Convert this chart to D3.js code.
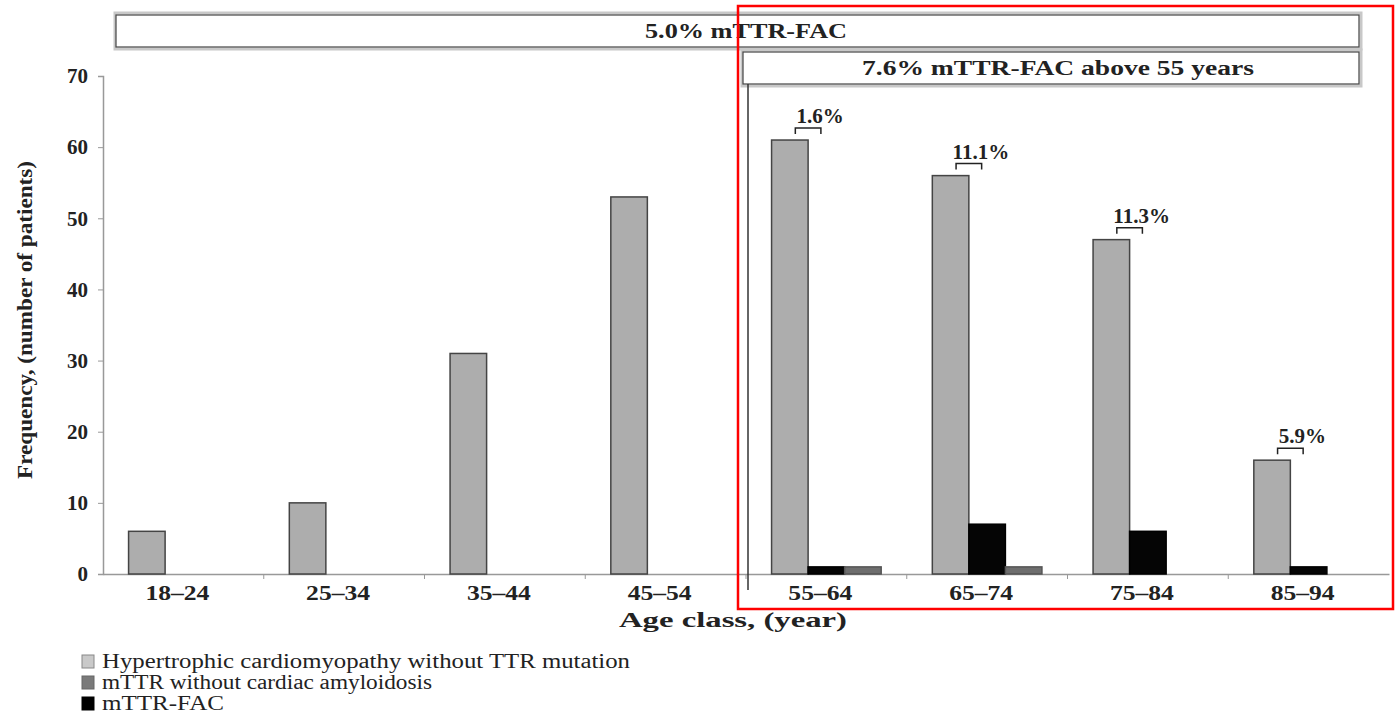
<!DOCTYPE html>
<html lang="en">
<head>
<meta charset="UTF-8" />
<title>Age class frequency</title>
<style>
  html, body {
    margin: 0;
    padding: 0;
    background: #fff;
    overflow: hidden;
  }
  svg {
    font-family: "Liberation Serif", "DejaVu Serif", serif;
  }
  .axis {
    font-family: "Liberation Serif", "DejaVu Serif", serif;
  }
  .tick text {
    font-weight: bold;
    font-size: 21px;
    fill: #222;
  }
  .axis path, .axis line {
    stroke: #999;
  }
</style>
</head>
<body>
<svg width="1395" height="718"></svg>

<script src="https://d3js.org/d3.v7.min.js"></script>
<script>
const ageClasses = ["18–24", "25–34", "35–44", "45–54", "55–64", "65–74", "75–84", "85–94"];
const hcmValues = [6, 10, 31, 53, 61, 56, 47, 16];
const facValues = [0, 0, 0, 0, 1, 7, 6, 1];
const mttrValues = [0, 0, 0, 0, 1, 1, 0, 0];
const pctLabels = [null, null, null, null, "1.6%", "11.1%", "11.3%", "5.9%"];
const yTicks = [0, 10, 20, 30, 40, 50, 60, 70];

// drawn order in each group, and legend order
const barSeries = [
  { key: "hcm", values: hcmValues, fill: "#adadad", stroke: "#444" },
  { key: "fac", values: facValues, fill: "#050505", stroke: "#000" },
  { key: "mttr", values: mttrValues, fill: "#6e6e6e", stroke: "#555" }
];
const legendItems = [
  { label: "Hypertrophic cardiomyopathy without TTR mutation", fill: "#c9c9c9", stroke: "#888", len: 528 },
  { label: "mTTR without cardiac amyloidosis", fill: "#7a7a7a", stroke: "#666", len: 330 },
  { label: "mTTR-FAC", fill: "#000", stroke: "#000", len: 122 }
];

const svg = d3.select("svg");
const plotLeft = 103, plotRight = 1389, plotTop = 76, plotBottom = 574;

const x = d3.scaleBand().domain(ageClasses).range([plotLeft, plotRight]).padding(0);
const xSub = d3.scaleBand().domain(barSeries.map(s => s.key))
  .range([0, x.bandwidth()]).paddingInner(0).paddingOuter(0.7);
const y = d3.scaleLinear().domain([0, 70]).range([plotBottom, plotTop]);

// header boxes
function headerBox(x0, y0, w, h, label, cx, len) {
  svg.append("rect").attr("x", x0 - 1).attr("y", y0 - 2).attr("width", w + 3).attr("height", h + 4)
    .attr("fill", "none").attr("stroke", "#c8c8c8").attr("stroke-width", 3);
  svg.append("rect").attr("x", x0).attr("y", y0).attr("width", w).attr("height", h)
    .attr("fill", "#fff").attr("stroke", "#444").attr("stroke-width", 1.2);
  svg.append("text").attr("x", cx).attr("y", y0 + h / 2 + 7)
    .attr("text-anchor", "middle").attr("font-weight", "bold").attr("font-size", 20)
    .attr("textLength", len).attr("lengthAdjust", "spacingAndGlyphs")
    .attr("fill", "#222").text(label);
}
headerBox(116, 15, 1243, 32, "5.0% mTTR-FAC", 746, 202);
headerBox(743, 52, 616, 32, "7.6% mTTR-FAC above 55 years", 1058, 392);

// y axis
svg.append("g").attr("class", "axis")
  .attr("transform", `translate(${plotLeft},0)`)
  .call(d3.axisLeft(y).tickValues(yTicks).tickSize(5).tickPadding(10))
  .call(g => g.attr("font-family", null))
  .call(g => g.select(".domain").attr("stroke-width", 1.5));

// x axis, ticks at category boundaries
const xAxis = svg.append("g").attr("class", "axis")
  .attr("transform", `translate(0,${plotBottom})`)
  .call(d3.axisBottom(x).tickSize(0).tickPadding(9))
  .call(g => g.attr("font-family", null))
  .call(g => g.select(".domain").attr("stroke-width", 1.5));
xAxis.selectAll(".tick text").attr("dy", "0.8em").attr("dx", -6)
  .attr("textLength", 64).attr("lengthAdjust", "spacingAndGlyphs");
xAxis.selectAll(".boundary")
  .data(ageClasses.slice(1))
  .join("line")
  .attr("x1", d => x(d)).attr("x2", d => x(d))
  .attr("y1", 0).attr("y2", 5)
  .attr("stroke", "#999");

// divider between age groups below / above 55
svg.append("line")
  .attr("x1", x("55–64") + 2).attr("x2", x("55–64") + 2)
  .attr("y1", 84).attr("y2", 590)
  .attr("stroke", "#333").attr("stroke-width", 1.5);

// bars
const groups = svg.selectAll(".group")
  .data(ageClasses)
  .join("g")
  .attr("transform", d => `translate(${x(d)},0)`);

barSeries.forEach(s => {
  groups.filter((d, i) => s.values[i] > 0)
    .append("rect")
    .attr("x", xSub(s.key))
    .attr("width", xSub.bandwidth())
    .attr("y", d => y(s.values[ageClasses.indexOf(d)]))
    .attr("height", d => plotBottom - y(s.values[ageClasses.indexOf(d)]))
    .attr("fill", s.fill)
    .attr("stroke", s.stroke)
    .attr("stroke-width", 1.5);
});

// percentage brackets
const w = xSub.bandwidth();
ageClasses.forEach((c, i) => {
  if (!pctLabels[i]) return;
  const gx = x(c) + xSub("hcm");
  const yt = y(hcmValues[i]);
  const x1 = gx + w * 0.65, x2 = gx + w * 1.35;
  svg.append("path")
    .attr("d", `M${x1},${yt - 6}V${yt - 12}H${x2}V${yt - 6}`)
    .attr("fill", "none").attr("stroke", "#222").attr("stroke-width", 1.5);
  svg.append("text")
    .attr("x", (x1 + x2) / 2 + 12).attr("y", yt - 17)
    .attr("text-anchor", "middle").attr("font-weight", "bold").attr("font-size", 21)
    .attr("fill", "#222").text(pctLabels[i]);
});

// axis titles
svg.append("text").attr("x", 733).attr("y", 627)
  .attr("text-anchor", "middle").attr("font-weight", "bold").attr("font-size", 22)
  .attr("textLength", 228).attr("lengthAdjust", "spacingAndGlyphs")
  .attr("fill", "#222").text("Age class, (year)");
svg.append("text").attr("transform", "translate(32,320) rotate(-90)")
  .attr("text-anchor", "middle").attr("font-weight", "bold").attr("font-size", 21)
  .attr("textLength", 318).attr("lengthAdjust", "spacingAndGlyphs")
  .attr("fill", "#222").text("Frequency, (number of patients)");

// legend
const legend = svg.selectAll(".legend")
  .data(legendItems)
  .join("g")
  .attr("transform", (d, i) => `translate(82,${655 + i * 21})`);
legend.append("rect").attr("width", 12).attr("height", 13)
  .attr("fill", d => d.fill).attr("stroke", d => d.stroke);
legend.append("text").attr("x", 20).attr("y", 13)
  .attr("font-size", 20).attr("fill", "#222")
  .attr("textLength", d => d.len).attr("lengthAdjust", "spacingAndGlyphs")
  .text(d => d.label);

// highlight frame
svg.append("rect").attr("x", 738).attr("y", 6).attr("width", 655).attr("height", 603)
  .attr("fill", "none").attr("stroke", "#f00").attr("stroke-width", 2.5);
</script>
</body>
</html>
